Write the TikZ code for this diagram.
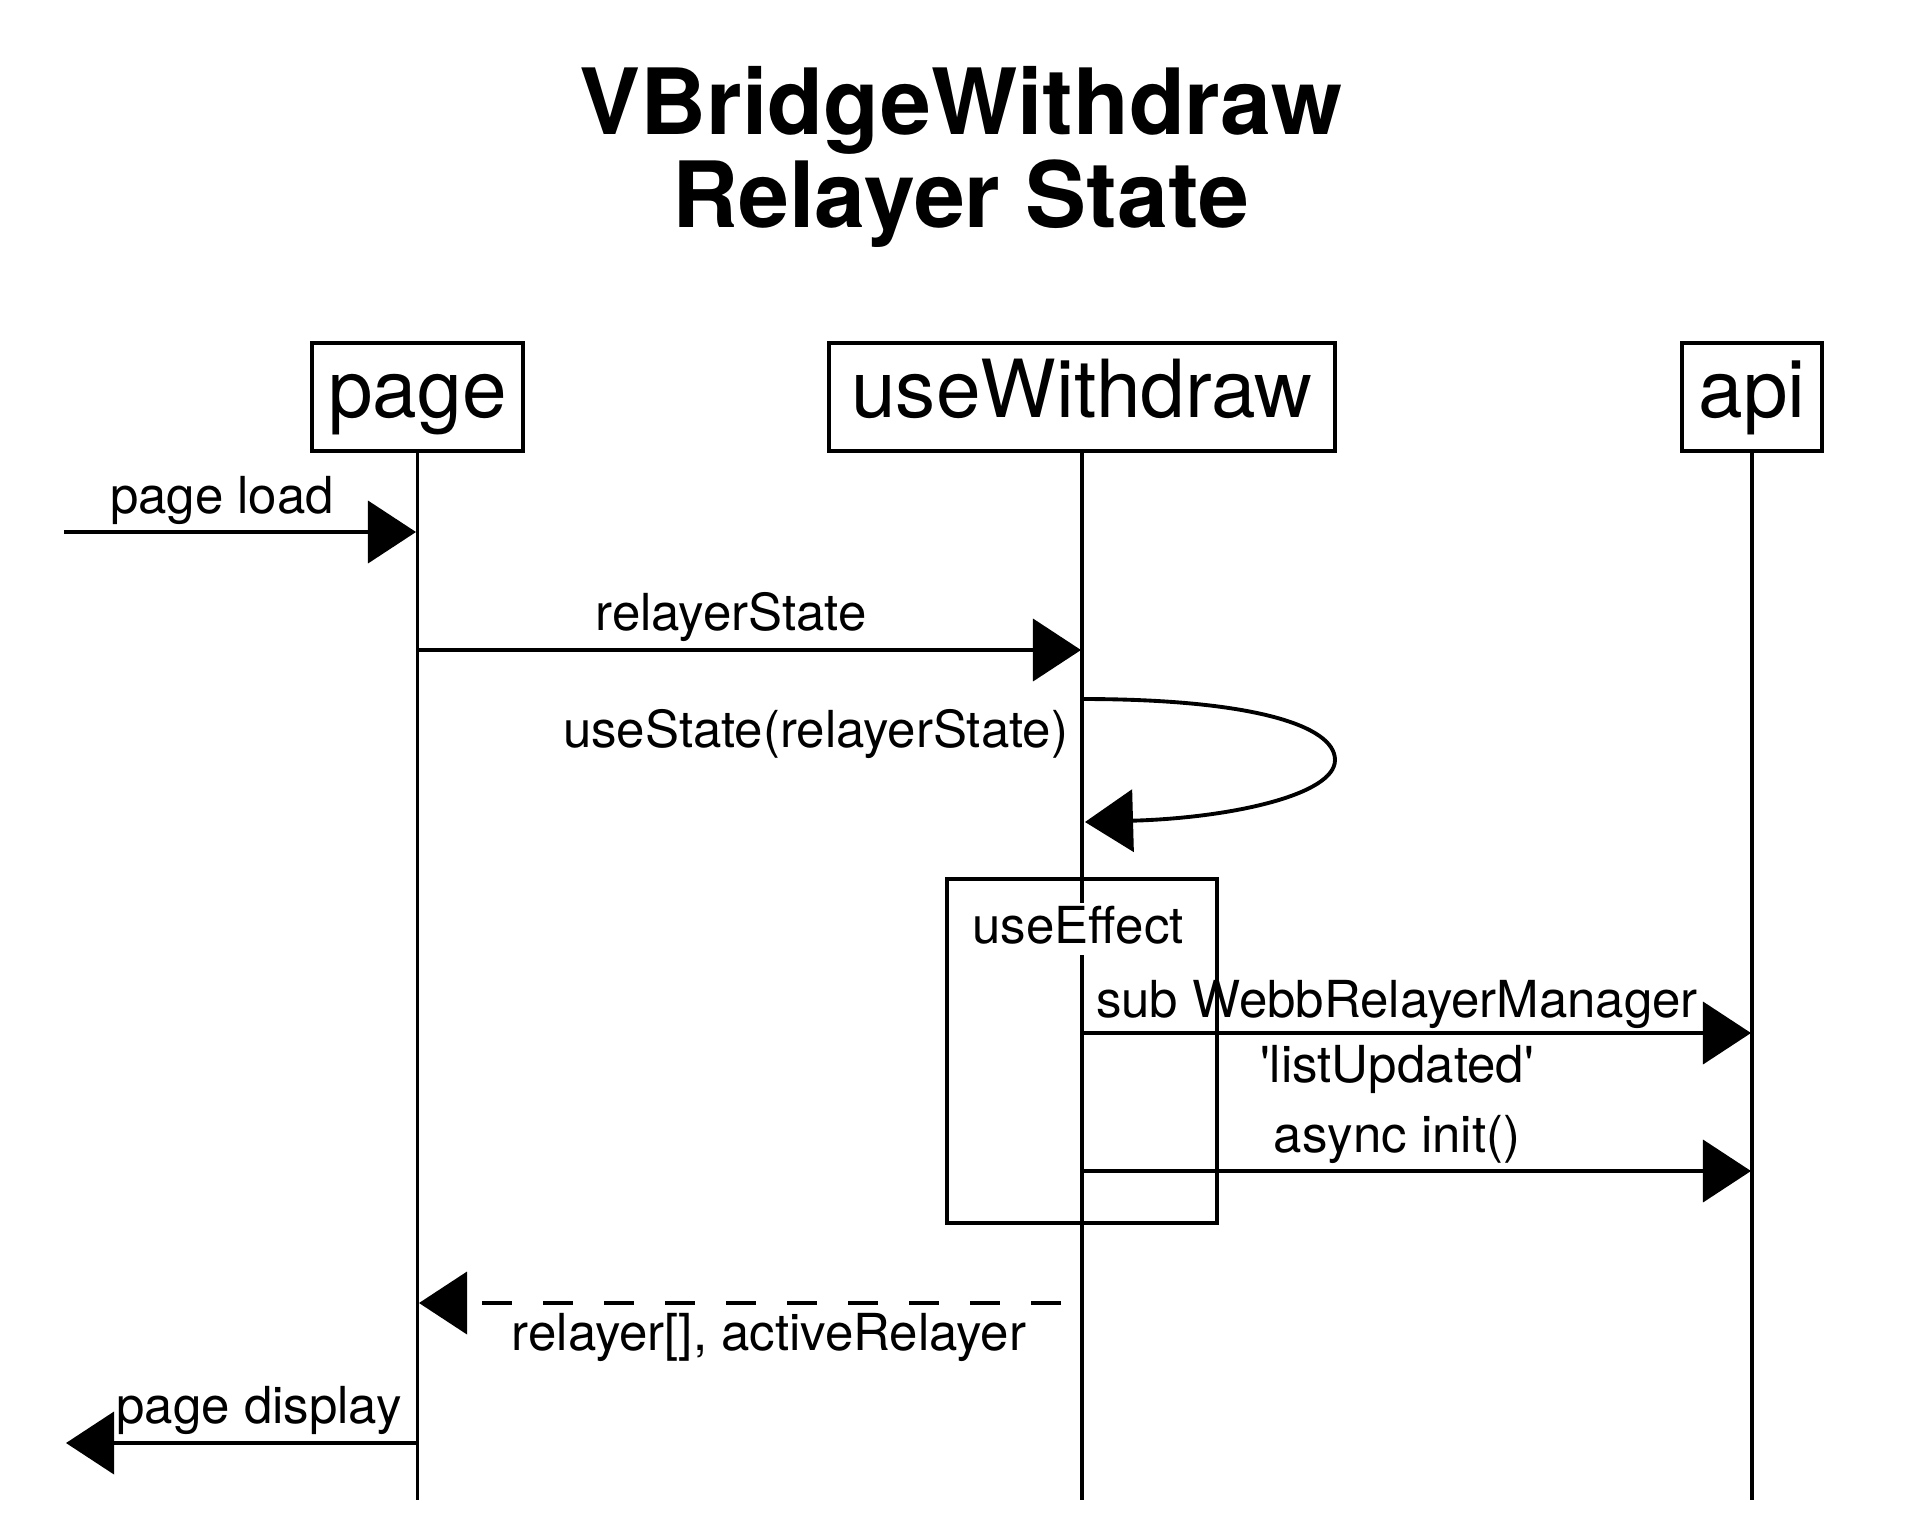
\documentclass[tikz,border=0pt]{standalone}
\usepackage{fontspec}
\setmainfont{TeX Gyre Heros}[Ligatures=TeXOff]
\usetikzlibrary{arrows.meta}
\begin{document}
\begin{tikzpicture}[x=0.01cm,y=-0.01cm,line width=1.1pt,
  lane/.style={draw, line width=1.1pt, inner sep=0pt, minimum height=1.08cm,
    text height=15.9pt, text depth=4pt, font=\fontsize{22.8}{27}\selectfont},
  lbl/.style={inner sep=0pt, font=\fontsize{14.5}{18.5}\selectfont},
  msg/.style={-{Triangle[length=0.48cm,width=0.62cm]}},
  ret/.style={msg, dash pattern=on 0.3cm off 0.31cm},
]
\fill[white] (0,0) rectangle (1920,1520);
\useasboundingbox (0,0) rectangle (1920,1520);

% title
\node[font=\bfseries\fontsize{26}{26.5}\selectfont, align=center, anchor=north, inner sep=0pt]
  (title) at (961,64) {VBridgeWithdraw\\Relayer State};

% participants
\node[lane, minimum width=2.11cm] (page) at (417.5,397) {page};
\node[lane, minimum width=5.06cm] (uw) at (1082,397) {useWithdraw};
\node[lane, minimum width=1.40cm] (api) at (1752,397) {api};

% lifelines
\coordinate (pageEnd) at (417.5,1500);
\coordinate (uwEnd) at (1082,1500);
\coordinate (apiEnd) at (1752,1500);
\draw (page.south) -- (pageEnd);
\draw (uw.south) -- (uwEnd);
\draw (api.south) -- (apiEnd);

% useEffect frame
\node[draw, line width=1.1pt, minimum width=2.70cm, minimum height=3.44cm, inner sep=0pt]
  (effect) at (1082,1051) {};
\node[lbl, anchor=base, fill=white, text height=11.4pt, text depth=3.4pt]
  (leff) at (1078,943) {useEffect};

% page load
\coordinate (inL) at (64,532);
\coordinate (inP) at (416,532);
\draw[msg] (inL) -- (inP);
\node[lbl, anchor=base] (lload) at (222,513) {page load};

% relayerState
\coordinate (m1a) at (417.5,650);
\coordinate (m1b) at (1081,650);
\draw[msg] (m1a) -- (m1b);
\node[lbl, anchor=base] (lrs) at (731,630) {relayerState};

% self loop
\coordinate (s1) at (1082,699);
\coordinate (s2) at (1085,822);
\draw[msg] (s1) .. controls (1250,699) and (1335,725) .. (1335,760)
  .. controls (1335,795) and (1230,818) .. (s2);
\node[lbl, anchor=base east] (lus) at (1070,747) {useState(relayerState)};

% sub WebbRelayerManager
\coordinate (m2a) at (1082,1033);
\coordinate (m2b) at (1751,1033);
\draw[msg] (m2a) -- (m2b);
\node[lbl, anchor=north, align=center] (lsub) at (1397,978)
  {sub WebbRelayerManager\\'listUpdated'};

% async init
\coordinate (m3a) at (1082,1171);
\coordinate (m3b) at (1751,1171);
\draw[msg] (m3a) -- (m3b);
\node[lbl, anchor=base] (linit) at (1397,1152) {async init()};

% return
\coordinate (r1a) at (1061,1303);
\coordinate (r1b) at (419,1303);
\draw[ret] (r1a) -- (r1b);
\node[lbl, anchor=base] (lrel) at (769,1350) {relayer[], activeRelayer};

% page display
\coordinate (outP) at (417.5,1443);
\coordinate (outL) at (66,1443);
\draw[msg] (outP) -- (outL);
\node[lbl, anchor=base] (ldisp) at (259,1423) {page display};
\end{tikzpicture}
\end{document}
